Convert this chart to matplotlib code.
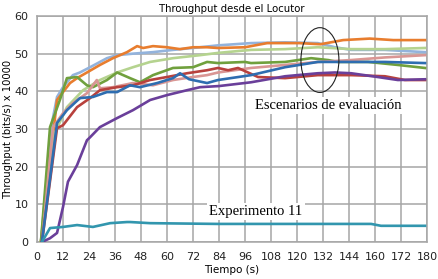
import matplotlib
matplotlib.use("Agg")
import matplotlib.pyplot as plt
from matplotlib.patches import Ellipse

# x positions are in tick-slot units (one slot per labelled gridline)
tick_labels = ["0", "12", "24", "36", "48", "60", "72", "84", "96", "108",
               "120", "132", "144", "160", "172", "180"]

lblue_x = [0.15, 0.58, 0.77, 1.0, 1.38, 1.65, 2.04, 2.42, 2.69, 3.08, 3.69, 4.46,
           5.23, 6.27, 6.96, 8.23, 9.54, 10.8, 11.46, 12.08, 13.38, 14.92]
lblue_y = [0, 31.8, 38.5, 41.1, 44.3, 45, 46.4, 47.8, 48.8, 49.6, 50, 50.4,
           51, 51.7, 52.2, 52.8, 53, 52.8, 51.7, 51, 51, 50.4]

orange_x = [0.15, 0.77, 1.0, 1.27, 1.54, 1.92, 2.42, 2.92, 3.46, 3.85, 4.08, 4.46,
            5.0, 5.5, 6.0, 6.54, 6.96, 8.0, 8.85, 10.1, 10.9, 11.77, 12.8, 13.7, 14.92]
orange_y = [0, 37.7, 39.8, 42.2, 43.5, 45, 47, 48.8, 50.4, 52, 51.5, 52,
            51.7, 51.2, 51.7, 51.7, 51.5, 51.7, 52.8, 52.8, 52.5, 53.6, 54, 53.6, 53.6]

lgreen_x = [0.15, 0.62, 1.15, 1.77, 2.42, 3.08, 3.69, 4.35, 5.23, 6.27, 6.96,
            8.23, 9.54, 10.8, 12.08, 13.38, 14.92]
lgreen_y = [0, 28, 35.8, 40.3, 43, 45, 46.4, 47.8, 48.8, 49.6, 50.2,
            51, 51.2, 51.7, 51.2, 51.2, 51.5]

green_x = [0.15, 0.5, 0.88, 1.15, 1.54, 1.92, 2.15, 2.69, 3.08, 3.58, 3.96, 4.46,
           5.23, 6.0, 6.54, 6.96, 8.0, 8.23, 9.54, 10.54, 11.2, 11.58, 12.73, 13.88, 14.92]
green_y = [0, 30.5, 37.7, 43.5, 43.8, 41.6, 41.1, 43, 45, 43.5, 42.4, 44.3,
           46.2, 46.4, 47.8, 47.5, 47.8, 47.5, 47.8, 48.8, 48.3, 47.8, 47.8, 47, 46.2]

red_x = [0.19, 0.77, 1.0, 1.54, 2.04, 2.42, 3.08, 3.69, 4.35, 5.0, 5.77, 6.54,
         6.96, 7.35, 7.73, 8.5, 9.54, 10.8, 12.08, 13.38, 14.15, 14.92]
red_y = [0, 30.2, 31, 35.8, 38.2, 40.3, 41.1, 41.6, 43, 43.8, 44.8, 45.6,
         46.2, 45.6, 46.2, 43.8, 43.5, 44.3, 44.3, 44, 43, 43]

blue_x = [0.19, 0.77, 1.15, 1.65, 2.15, 2.69, 3.08, 3.58, 3.96, 4.62, 5.23, 5.5,
          5.85, 6.54, 6.96, 8.23, 9.54, 10.8, 12.08, 13.38, 14.92]
blue_y = [0, 31.6, 35, 38.2, 38.5, 39.8, 39.8, 41.6, 41.1, 42.2, 43.5, 44.8,
          43.2, 42.2, 43, 44.3, 46.4, 47.8, 47.8, 47.8, 47.5]

pink_x = [0.19, 0.62, 1.0, 1.38, 1.92, 2.3, 2.42, 2.92, 3.69, 4.46, 5.23, 6.0,
          6.54, 6.96, 8.23, 9.54, 10.8, 12.08, 13.38, 14.92]
pink_y = [0, 30.5, 34.2, 36.9, 39.5, 43, 40.8, 41.1, 42.2, 41.6, 43, 43.8,
          44.3, 45, 46.2, 47, 47.8, 48.3, 49, 49.6]

purple_x = [0.19, 0.5, 0.77, 1.0, 1.19, 1.54, 1.92, 2.04, 2.42, 3.08, 3.69, 4.35,
            5.0, 5.77, 6.27, 7.0, 8.23, 9.54, 10.8, 11.46, 12.08, 13.1, 13.88, 14.92]
purple_y = [0, 1, 2.4, 9.3, 16, 20.4, 27, 27.8, 30.5, 32.9, 35, 37.7,
            39, 40.3, 41.1, 41.4, 42.4, 44, 44.8, 45, 44.8, 43.8, 43, 43.2]

teal_x = [0.19, 0.5, 1.0, 1.54, 2.15, 2.81, 3.46, 3.58, 4.35, 6.96, 12.85, 13.23, 14.92]
teal_y = [0, 3.7, 4, 4.5, 4, 5, 5.3, 5.3, 5, 4.8, 4.8, 4.3, 4.3]

series = [
    (lblue_x, lblue_y, "#93B3DC"),
    (orange_x, orange_y, "#E87D2E"),
    (lgreen_x, lgreen_y, "#B5D38F"),
    (green_x, green_y, "#70A03D"),
    (pink_x, pink_y, "#D99694"),
    (red_x, red_y, "#B8413D"),
    (blue_x, blue_y, "#2E6DB0"),
    (purple_x, purple_y, "#6A3F9A"),
    (teal_x, teal_y, "#3296AE"),
]

plt.rcParams['font.family'] = ['DejaVu Sans']

fig = plt.figure(figsize=(4.38, 2.79), dpi=100)
ax = fig.add_axes([0.0845, 0.1326, 0.8905, 0.8101])

for xs, ys, c in series:
    ax.plot(xs, ys, color=c, lw=1.9, solid_joinstyle='round', zorder=3)

ax.set_xlim(0, 15)
ax.set_ylim(0, 60)
ax.set_xticks(range(len(tick_labels)))
ax.set_xticklabels(tick_labels)
ax.set_yticks(range(0, 61, 10))
ax.tick_params(length=0, labelsize=8, colors="#222222")
ax.tick_params(axis='y', pad=6)
ax.tick_params(axis='x', pad=7)
ax.grid(True, color="#A6A6A6", lw=1.1)
ax.set_axisbelow(True)
for sp in ax.spines.values():
    sp.set_color("#A6A6A6")
    sp.set_linewidth(1.1)

ax.set_title("Throughput desde el Locutor", fontsize=7.3, pad=3)
ax.set_xlabel("Tiempo (s)", fontsize=7.5, labelpad=2)
ax.set_ylabel("Throughput (bits/s) x 10000", fontsize=7.2, labelpad=1)

ax.add_patch(Ellipse((10.88, 48.3), 1.46, 17.2, fill=False, edgecolor="#222222",
                     lw=0.8, zorder=5))
ax.text(11.19, 36.3, "Escenarios de evaluación", family="Liberation Serif",
        fontsize=10.5, ha="center", va="center", zorder=4,
        bbox=dict(facecolor="white", edgecolor="none", pad=1.5))
ax.text(8.42, 8.0, "Experimento 11", family="Liberation Serif",
        fontsize=10.5, ha="center", va="center", zorder=4,
        bbox=dict(facecolor="white", edgecolor="none", pad=1.5))

fig.savefig("out.png", dpi=100)
